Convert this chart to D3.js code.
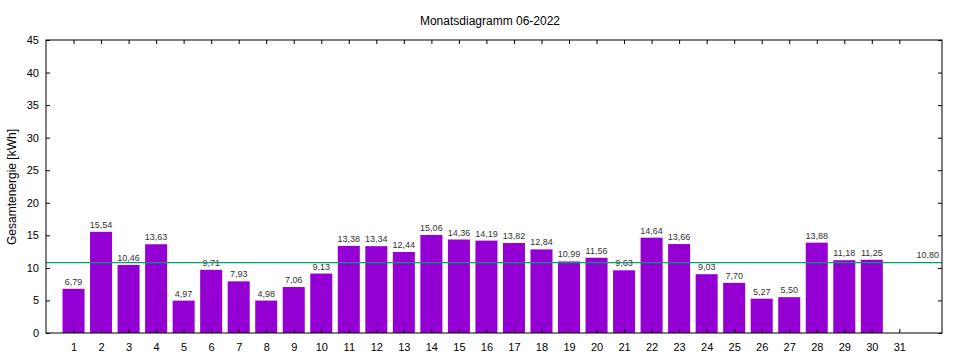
<!DOCTYPE html>
<html><head><meta charset="utf-8">
<script src="https://cdn.jsdelivr.net/npm/d3@7"></script>
<style>body{margin:0;background:#fff}svg{display:block}</style>
</head><body>
<svg id="c" width="960" height="360"></svg>
<script>
const days = d3.range(1, 32);
const values = [6.79,15.54,10.46,13.63,4.97,9.71,7.93,4.98,7.06,9.13,13.38,13.34,12.44,15.06,14.36,14.19,13.82,12.84,10.99,11.56,9.63,14.64,13.66,9.03,7.70,5.27,5.50,13.88,11.18,11.25];
const labels = ["6,79","15,54","10,46","13,63","4,97","9,71","7,93","4,98","7,06","9,13","13,38","13,34","12,44","15,06","14,36","14,19","13,82","12,84","10,99","11,56","9,63","14,64","13,66","9,03","7,70","5,27","5,50","13,88","11,18","11,25"];
const mean = 10.80;
const meanLabel = "10,80";
const yTicks = [0,5,10,15,20,25,30,35,40,45];
const title = "Monatsdiagramm 06-2022";
const yTitle = "Gesamtenergie [kWh]";

const L = 46, R = 942, T = 40, B = 333;
const svg = d3.select("#c");
const font = "'Liberation Sans', Arial, sans-serif";
const x = d3.scaleLinear().domain([0, 32.55]).range([L, R]);
const y = d3.scaleLinear().domain([0, 45]).range([B, T]);
const bw = x(0.8) - x(0);

// bars
svg.append("g").selectAll("rect").data(values).join("rect")
  .attr("x", (d,i) => x(i+1) - bw/2).attr("width", bw)
  .attr("y", d => y(d)).attr("height", d => y(0) - y(d))
  .attr("fill", "#9400d3");

// value labels
svg.append("g").selectAll("text").data(values).join("text")
  .attr("x", (d,i) => x(i+1)).attr("y", d => y(d) - 4)
  .attr("text-anchor", "middle").attr("font-family", font).attr("font-size", 9)
  .attr("fill", "#333").text((d,i) => labels[i]);

// mean line
svg.append("line").attr("x1", L).attr("x2", R).attr("y1", y(mean)).attr("y2", y(mean))
  .attr("stroke", "#009e73").attr("stroke-width", 1.3);
svg.append("text").attr("x", R - 3).attr("y", y(mean) - 5).attr("text-anchor", "end")
  .attr("font-family", font).attr("font-size", 9).attr("fill", "#333").text(meanLabel);

// axes (inward ticks, gnuplot style)
const ax = svg.append("g").attr("font-family", font).attr("font-size", 11);
const yl = d3.axisLeft(y).tickValues(yTicks).tickSize(-4).tickPadding(7).tickFormat(d3.format("d"));
const yr = d3.axisRight(y).tickValues(yTicks).tickSize(-4).tickFormat("");
const xb = d3.axisBottom(x).tickValues(days).tickSize(-4).tickPadding(10).tickFormat(d3.format("d"));
const xt = d3.axisTop(x).tickValues(days).tickSize(-4).tickFormat("");
ax.append("g").attr("transform", `translate(${L},0)`).call(yl);
ax.append("g").attr("transform", `translate(${R},0)`).call(yr);
ax.append("g").attr("transform", `translate(0,${B})`).call(xb);
ax.append("g").attr("transform", `translate(0,${T})`).call(xt);
ax.selectAll(".domain").remove();
ax.selectAll("text").attr("fill", "#000").attr("font-family", font).attr("font-size", 11);
ax.selectAll(".tick line").attr("stroke", "#000");
svg.append("rect").attr("x", L).attr("y", T).attr("width", R - L).attr("height", B - T)
  .attr("fill", "none").attr("stroke", "#000").attr("stroke-width", 1);

// titles
svg.append("text").attr("x", 490).attr("y", 25).attr("text-anchor", "middle")
  .attr("font-family", font).attr("font-size", 12).attr("fill", "#000").text(title);
svg.append("text").attr("transform", "translate(16,187) rotate(-90)").attr("text-anchor", "middle")
  .attr("font-family", font).attr("font-size", 12).attr("fill", "#000").text(yTitle);
</script>
</body></html>
